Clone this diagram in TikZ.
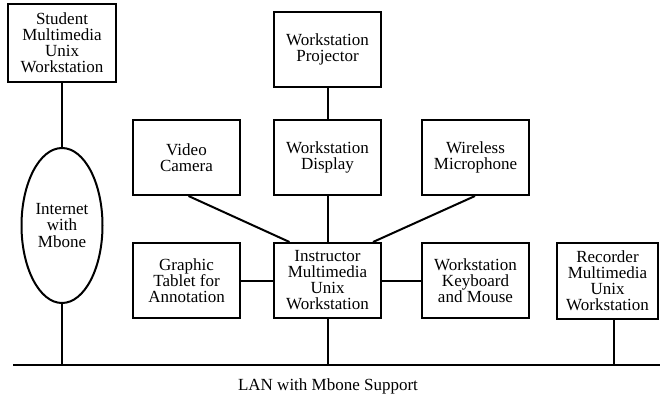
\documentclass[tikz,border=0pt]{standalone}
\usepackage{fontspec}
\setmainfont{Liberation Serif}
\usetikzlibrary{positioning,shapes.geometric,calc}
\tikzset{
  box/.style={rectangle, draw=black, line width=2pt, align=center,
              font=\fontsize{17}{16}\selectfont, inner sep=1pt,
              minimum width=107pt, minimum height=75pt},
  net/.style={ellipse, draw=black, line width=2pt, align=center,
              font=\fontsize{17}{16.5}\selectfont, inner sep=0pt,
              minimum width=81pt, minimum height=155pt},
  wire/.style={line width=2pt, draw=black},
}

\begin{document}
\begin{tikzpicture}[x=1pt,y=1pt]
  \useasboundingbox (0,0) rectangle (660,-402);

  % instructor station and its devices
  \node[box] (ins) at (327.5,-280.5) {Instructor\\Multimedia\\Unix\\Workstation};
  \node[box, left=32pt of ins] (tab) {Graphic\\Tablet for\\Annotation};
  \node[box, right=39pt of ins] (kbd) {Workstation\\Keyboard\\and Mouse};
  \node[box, above=46pt of ins] (dsp) {Workstation\\Display};
  \node[box, left=32pt of dsp] (cam) {Video\\Camera};
  \node[box, right=39pt of dsp] (mic) {Wireless\\Microphone};
  \node[box, above=31pt of dsp] (prj) {Workstation\\Projector};

  % remote and recorder stations
  \node[box, minimum width=108pt, minimum height=78pt] (stu) at (62,-43) {Student\\Multimedia\\Unix\\Workstation};
  \node[net] (inet) at (62,-225.5) {Internet\\with\\Mbone};
  \node[box, minimum width=101pt, minimum height=76pt] (rec) at (607.5,-281) {Recorder\\Multimedia\\Unix\\Workstation};

  % LAN
  \coordinate (lanL) at (13,-365);
  \coordinate (lanR) at (660,-365);
  \draw[wire] (lanL) -- (lanR);
  \node[font=\fontsize{17}{16}\selectfont] (lan) at (328,-386) {LAN with Mbone Support};

  \draw[wire] (prj) -- (dsp);
  \draw[wire] (dsp) -- (ins);
  \draw[wire] ([xshift=2pt]cam.south) -- ([xshift=-38pt]ins.north);
  \draw[wire] ([xshift=-0.5pt]mic.south) -- ([xshift=45.5pt]ins.north);
  \draw[wire] (tab) -- (ins);
  \draw[wire] (ins) -- (kbd);
  \draw[wire] (stu) -- (inet);
  \draw[wire] (inet.south) -- (inet.south |- lanL);
  \draw[wire] (ins.south) -- (ins.south |- lanL);
  \draw[wire] ([xshift=6.5pt]rec.south) -- ([xshift=6.5pt]rec.south |- lanL);
\end{tikzpicture}
\end{document}
